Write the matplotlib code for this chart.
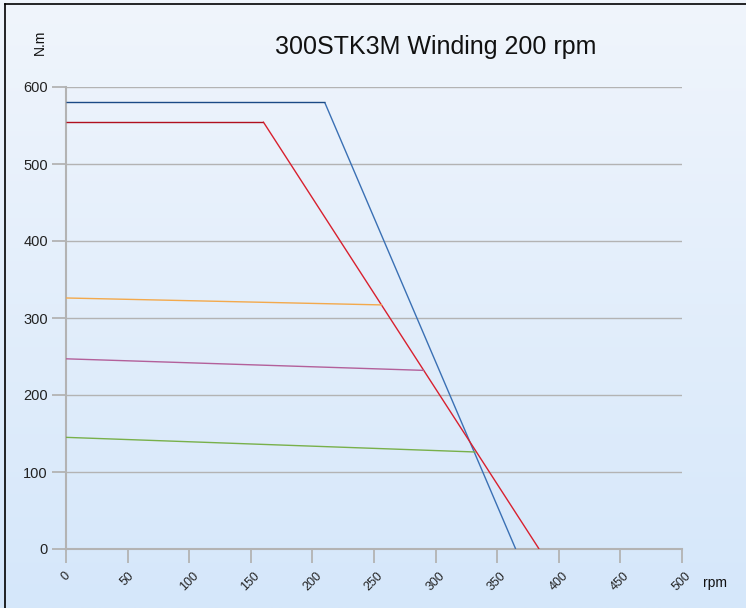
import numpy as np
import matplotlib
matplotlib.use("Agg")
import matplotlib.pyplot as plt

plt.rcParams['font.family'] = ['Liberation Sans', 'DejaVu Sans']

title = "300STK3M Winding 200 rpm"
x_ticks = [0, 50, 100, 150, 200, 250, 300, 350, 400, 450, 500]
y_ticks = [0, 100, 200, 300, 400, 500, 600]

# peak torque curves (flat part then drop)
blue_x = [0, 210, 365]
blue_y = [580, 580, 0]
red_x = [0, 160, 384]
red_y = [555, 555, 0]
# continuous torque curves
orange_x = [0, 256]
orange_y = [326, 317]
purple_x = [0, 290]
purple_y = [247, 232]
green_x = [0, 332]
green_y = [145, 126]

fig = plt.figure(figsize=(7.46, 6.08), dpi=100)

# background gradient
bg = fig.add_axes([0, 0, 1, 1], zorder=-10)
grad = np.linspace(0, 1, 256).reshape(-1, 1)
c_top = np.array([0xf0, 0xf5, 0xfc]) / 255
c_bot = np.array([0xd5, 0xe7, 0xfa]) / 255
img = c_top[None, None, :] * (1 - grad[:, :, None]) + c_bot[None, None, :] * grad[:, :, None]
bg.imshow(img, aspect='auto', extent=[0, 1, 0, 1], origin='upper')
bg.set_xlim(0, 1); bg.set_ylim(0, 1)
bg.axis('off')
# frame lines on left and top
bg.plot([5/746, 5/746], [0, 1 - 4/608], color='black', lw=1.2)
bg.plot([5/746, 1], [1 - 4/608, 1 - 4/608], color='black', lw=1.2)

ax = fig.add_axes([66/746, 1 - 549/608, 616/746, 462/608])
ax.patch.set_alpha(0)
ax.set_xlim(0, 500)
ax.set_ylim(0, 600)

ax.yaxis.grid(True, color='#b3b3b3', lw=1.0)
ax.set_axisbelow(True)

def two_tone(xs, ys, c_flat, c_slope):
    ax.plot(xs[1:], ys[1:], color=c_slope, lw=1.0, zorder=3, solid_capstyle='butt')
    ax.plot(xs[:2], ys[:2], color=c_flat, lw=1.0, zorder=3, solid_capstyle='butt')

two_tone(blue_x, blue_y, '#1b4a85', '#3a70b4')
two_tone(red_x, red_y, '#b0101e', '#d8202e')
ax.plot(orange_x, orange_y, color='#f3a94c', lw=1.0, zorder=3)
ax.plot(purple_x, purple_y, color='#b3609a', lw=1.0, zorder=3)
ax.plot(green_x, green_y, color='#78b04a', lw=1.0, zorder=3)

for s in ['top', 'right']:
    ax.spines[s].set_visible(False)
for s in ['left', 'bottom']:
    ax.spines[s].set_color('#b3b3b3')
    ax.spines[s].set_linewidth(1.5)

ax.set_xticks(x_ticks)
ax.set_yticks(y_ticks)
ax.set_xticklabels([str(v) for v in x_ticks], rotation=45, ha='center', va='top',
                   fontsize=9)
ax.set_yticklabels([str(v) for v in y_ticks], fontsize=10.5)
ax.tick_params(axis='both', direction='out', length=10, width=1.3, color='#b3b3b3',
               labelcolor='#222222')
ax.tick_params(axis='x', pad=5)
ax.tick_params(axis='y', pad=3)

fig.text(436/746, 1 - 47/608, title, ha='center', va='center', fontsize=18, color='#111111')
fig.text(40/746, 1 - 42/608, "N.m", rotation=90, ha='center', va='center', fontsize=10, color='#111111')
fig.text(715/746, 1 - 583/608, "rpm", ha='center', va='center', fontsize=10, color='#111111')

fig.savefig("out.png", dpi=100)
